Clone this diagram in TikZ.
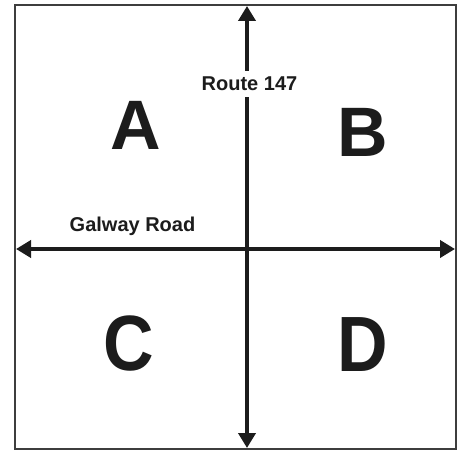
\documentclass[tikz,border=0pt]{standalone}
\usepackage{fontspec}
\setmainfont{Liberation Sans}
\usetikzlibrary{arrows.meta}
\definecolor{ink}{HTML}{1C1C1C}
\begin{document}
\begin{tikzpicture}[x=1pt,y=-1pt,
  frame/.style={draw=ink!85,line width=1.4pt},
  road/.style={draw=ink,line width=4.2pt,{Triangle[length=15pt,width=17pt]}-{Triangle[length=15pt,width=17pt]}},
  roadlabel/.style={font=\fontsize{20}{23}\selectfont\bfseries,text=ink,inner xsep=1pt},
  zone/.style={font=\fontsize{70}{70}\selectfont\bfseries,text=ink},
  tallzone/.style={zone,yscale=1.12}]
\useasboundingbox (0,0) rectangle (463,452);
\fill[white] (0,0) rectangle (463,452);
\draw[frame] (15,5) rectangle (456,449);
\coordinate (top) at (247,6);
\coordinate (bottom) at (247,448);
\coordinate (left) at (16,249);
\coordinate (right) at (455,249);
\draw[road] (left) -- (right);
\draw[road] (top) -- (bottom);
\node[roadlabel,fill=white,inner ysep=6.5pt] (route) at (249.5,84) {Route 147};
\node[roadlabel] (galway) at (132.5,226) {Galway Road};
\node[zone] (A) at (135.5,125) {A};
\node[zone] (B) at (363,132.5) {B};
\node[tallzone] (C) at (129,344) {C};
\node[tallzone] (D) at (363,345) {D};
\end{tikzpicture}
\end{document}
